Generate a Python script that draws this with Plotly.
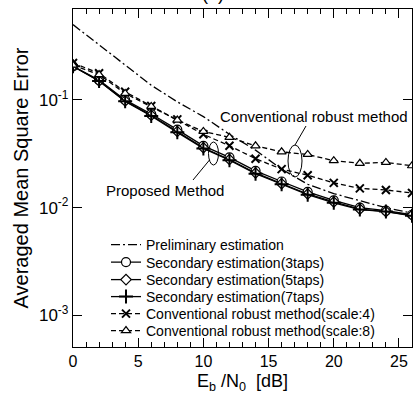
import plotly.graph_objects as go

ebn0 = [0, 2, 4, 6, 8, 10, 12, 14, 16, 18, 20, 22, 24, 26]

preliminary = [0.50, 0.325, 0.21, 0.137, 0.096, 0.070, 0.048, 0.0342, 0.0228, 0.0165, 0.0135, 0.0116, 0.0100, 0.0089]
sec_3taps = [0.205, 0.153, 0.100, 0.074, 0.053, 0.0375, 0.0293, 0.0220, 0.0175, 0.0140, 0.0117, 0.0100, 0.0094, 0.0086]
sec_5taps = [0.205, 0.150, 0.098, 0.072, 0.051, 0.0360, 0.0280, 0.0210, 0.0167, 0.0134, 0.0113, 0.0097, 0.0092, 0.0085]
sec_7taps = [0.205, 0.150, 0.097, 0.071, 0.050, 0.0355, 0.0276, 0.0207, 0.0165, 0.0132, 0.0111, 0.0096, 0.0092, 0.0084]
conv_scale4 = [0.220, 0.177, 0.119, 0.088, 0.066, 0.048, 0.0375, 0.0285, 0.0228, 0.0200, 0.0170, 0.0151, 0.0146, 0.0137]
conv_scale8 = [0.210, 0.172, 0.115, 0.087, 0.065, 0.051, 0.045, 0.0375, 0.033, 0.0312, 0.0273, 0.0258, 0.0263, 0.0245]

names = ["Preliminary estimation", "Secondary estimation(3taps)", "Secondary estimation(5taps)",
         "Secondary estimation(7taps)", "Conventional robust method(scale:4)", "Conventional robust method(scale:8)"]

y_tickvals = [1e-3, 1e-2, 1e-1]
y_ticktext = ["10<sup>-3</sup>", "10<sup>-2</sup>", "10<sup>-1</sup>"]
x_tickvals = [0, 5, 10, 15, 20, 25]

FONT = "Liberation Sans, Arial, sans-serif"
LW = 1.3

# plot area pixel geometry helpers (paper coords for annotations / legends)
PL, PR, PT, PB = 73, 412, 9, 347


def px(xp):
    return (xp - PL) / (PR - PL)


def py(yp):
    return (PB - yp) / (PB - PT)


legend_ids = ["legend", "legend2", "legend3", "legend4", "legend5", "legend6"]
legend_rows = [245, 262.5, 280, 297, 314, 331]

fig = go.Figure()

fig.add_trace(go.Scatter(x=ebn0, y=preliminary, name=names[0], mode="lines", legend=legend_ids[0],
                         line=dict(color="black", width=LW, dash="9px,3px,2px,3px")))
fig.add_trace(go.Scatter(x=ebn0, y=sec_3taps, name=names[1], mode="lines+markers", legend=legend_ids[1],
                         line=dict(color="black", width=LW),
                         marker=dict(symbol="circle", size=9, color="white", line=dict(color="black", width=1.2))))
fig.add_trace(go.Scatter(x=ebn0, y=sec_5taps, name=names[2], mode="lines+markers", legend=legend_ids[2],
                         line=dict(color="black", width=LW),
                         marker=dict(symbol="diamond", size=8, color="white", line=dict(color="black", width=1.2))))
fig.add_trace(go.Scatter(x=ebn0, y=sec_7taps, name=names[3], mode="lines+markers", legend=legend_ids[3],
                         line=dict(color="black", width=LW),
                         marker=dict(symbol="cross-thin", size=10, color="black", line=dict(color="black", width=2))))
fig.add_trace(go.Scatter(x=ebn0, y=conv_scale4, name=names[4], mode="lines+markers", legend=legend_ids[4],
                         line=dict(color="black", width=LW, dash="5px,3px"),
                         marker=dict(symbol="x-thin", size=8, color="black", line=dict(color="black", width=2))))
fig.add_trace(go.Scatter(x=ebn0, y=conv_scale8, name=names[5], mode="lines+markers", legend=legend_ids[5],
                         line=dict(color="black", width=LW, dash="5px,3px"),
                         marker=dict(symbol="triangle-up", size=8, color="white", line=dict(color="black", width=1.2))))

shapes = [
    dict(type="circle", xref="paper", yref="paper", x0=px(288), x1=px(302), y0=py(177), y1=py(145),
         line=dict(color="black", width=1)),
    dict(type="line", xref="paper", yref="paper", x0=px(295), y0=py(145), x1=px(306), y1=py(126),
         line=dict(color="black", width=1)),
    dict(type="circle", xref="paper", yref="paper", x0=px(208.5), x1=px(218.5), y0=py(165), y1=py(142),
         line=dict(color="black", width=1)),
    dict(type="line", xref="paper", yref="paper", x0=px(209.5), y0=py(160), x1=px(193), y1=py(180),
         line=dict(color="black", width=1)),
]

annotations = [
    dict(text="Conventional robust method", xref="paper", yref="paper", x=px(314), y=py(117),
         showarrow=False, font=dict(size=15, family=FONT, color="black"), xanchor="center", yanchor="middle"),
    dict(text="Proposed Method", xref="paper", yref="paper", x=px(165), y=py(190),
         showarrow=False, font=dict(size=15, family=FONT, color="black"), xanchor="center", yanchor="middle"),
    dict(text="(a)", xref="paper", yref="paper", x=px(213), y=py(6),
         showarrow=False, font=dict(size=18, family=FONT, color="black"), xanchor="center", yanchor="bottom"),
]

layout_legends = {}
for lid, row in zip(legend_ids, legend_rows):
    layout_legends[lid] = dict(x=px(106), y=py(row), xanchor="left", yanchor="middle",
                               bgcolor="rgba(0,0,0,0)", borderwidth=0,
                               font=dict(size=14, family=FONT, color="black"))

fig.update_layout(
    width=414, height=394,
    margin=dict(l=PL, r=414 - PR, t=PT, b=394 - PB),
    paper_bgcolor="white", plot_bgcolor="white",
    font=dict(family=FONT, color="black", size=17),
    showlegend=True,
    shapes=shapes,
    annotations=annotations,
    **layout_legends,
)

fig.update_xaxes(
    range=[0, 26], tickvals=x_tickvals, ticks="inside", ticklen=9, tickwidth=1.2, tickcolor="black",
    showline=True, linecolor="black", linewidth=1.3, mirror="ticks", showgrid=False, zeroline=False,
    tickfont=dict(size=16, family=FONT),
    minor=dict(dtick=1, ticks="inside", ticklen=5, tickwidth=1, tickcolor="black", showgrid=False),
    title=dict(text="E<sub>b</sub> /N<sub>0</sub>  [dB]", font=dict(size=18, family=FONT), standoff=7),
)
fig.update_yaxes(
    type="log", range=[-3.293, -0.156], tickvals=y_tickvals, ticktext=y_ticktext,
    ticks="inside", ticklen=9, tickwidth=1.2, tickcolor="black",
    showline=True, linecolor="black", linewidth=1.3, mirror="ticks", showgrid=False, zeroline=False,
    tickfont=dict(size=17, family=FONT),
    title=dict(text="Averaged Mean Square Error", font=dict(size=20, family=FONT), standoff=4),
)

fig.write_html("out.html")
